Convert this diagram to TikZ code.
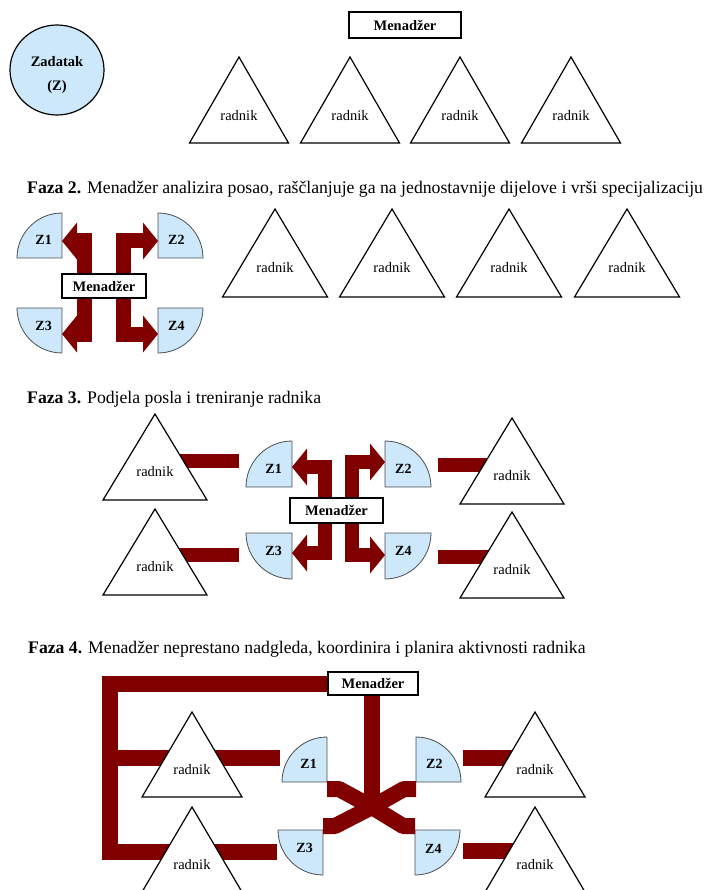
\documentclass[tikz,border=0pt]{standalone}
\usepackage{fontspec}
\setmainfont{Liberation Serif}
\usetikzlibrary{arrows.meta, shapes.geometric}

\definecolor{tamnocrvena}{RGB}{128,0,0}
\definecolor{zplava}{RGB}{204,232,250}

\tikzset{
  trokut/.style={draw, line width=1.2pt, fill=white},
  radnik/.style={font=\fontsize{14.5}{17}\selectfont, inner sep=0pt},
  menbox/.style={draw, line width=1.4pt, fill=white, inner sep=0pt, font=\bfseries\fontsize{14.5}{17}\selectfont},
  zdio/.style={draw=black!70, line width=0.8pt, fill=zplava},
  zoznaka/.style={font=\bfseries\fontsize{14}{17}\selectfont, inner sep=0pt},
  traka/.style={draw=tamnocrvena, line width=15pt},
  strelica/.style={traka, -{Triangle[length=15pt, width=37pt, line width=0pt]}},
  faza/.style={anchor=base west, inner sep=0pt, font=\fontsize{17.7}{20}\selectfont},
}

\begin{document}
\begin{tikzpicture}[x=1pt, y=1pt]
\useasboundingbox (0,0) rectangle (706,-890);
\clip (0,0) rectangle (706,-890);

% faza 1
\node[draw, ellipse, line width=1.2pt, fill=zplava, minimum width=94pt, minimum height=90pt] (zad) at (57,-70) {};
\node[align=center, font=\bfseries\fontsize{14.5}{24}\selectfont] (zadt) at (57,-75) {Zadatak\\(Z)};
\node[menbox, minimum width=112pt, minimum height=26pt] (m1) at (405,-25) {Menadžer};
\foreach \x [count=\n] in {239,350,460,571} {
  \draw[trokut] (\x,-57) -- ++(49.5,-86) -- ++(-99,0) -- cycle;
  \node[radnik] (r1\n) at (\x,-116) {radnik};
}

% faza 2
\node[faza] (f2) at (27,-194) {\textbf{Faza 2.} Menadžer analizira posao, raščlanjuje ga na jednostavnije dijelove i vrši specijalizaciju};
\node[menbox, minimum width=84pt, minimum height=24pt] (m2) at (104,-286) {Menadžer};
\foreach \cx/\cy/\a [count=\n] in {62/-258/90, 158/-258/0, 62/-308/180, 158/-308/270} {
  \coordinate (c2\n) at (\cx,\cy);
  \draw[zdio] (c2\n) -- ++(\a:45) arc[start angle=\a, delta angle=90, radius=45] -- cycle;
  \node[zoznaka] (z2\n) at ([shift={({\a+45}:26)}]c2\n) {Z\n};
}
\draw[strelica] ([xshift=-20pt]m2.north) |- ([yshift=17pt]c21);
\draw[strelica] ([xshift=19pt]m2.north) |- ([yshift=17pt]c22);
\draw[strelica] ([xshift=-20pt]m2.south) |- ([yshift=-26pt]c23);
\draw[strelica] ([xshift=19pt]m2.south) |- ([yshift=-26pt]c24);
\foreach \x [count=\n] in {275,392,509,627} {
  \draw[trokut] (\x,-209) -- ++(52.5,-88) -- ++(-105,0) -- cycle;
  \node[radnik] (r2\n) at (\x,-268) {radnik};
}

% faza 3
\node[faza] (f3) at (27,-403) {\textbf{Faza 3.} Podjela posla i treniranje radnika};
\coordinate (v31) at (155,-414);
\coordinate (v32) at (512,-418);
\coordinate (v33) at (155,-509);
\coordinate (v34) at (512,-512);
\coordinate (e31) at (239,-461);
\coordinate (e32) at (438,-465);
\coordinate (e33) at (239,-555);
\coordinate (e34) at (438,-557);
\draw[traka, line width=14pt] (e31) -- (e31 -| v31);
\draw[traka, line width=14pt] (e32) -- (e32 -| v32);
\draw[traka, line width=14pt] (e33) -- (e33 -| v33);
\draw[traka, line width=14pt] (e34) -- (e34 -| v34);
\node[menbox, minimum width=93pt, minimum height=25pt] (m3) at (336.5,-510.5) {Menadžer};
\foreach \cx/\cy/\a [count=\n] in {292/-487/90, 385/-487/0, 292/-533/180, 385/-533/270} {
  \coordinate (c3\n) at (\cx,\cy);
  \draw[zdio] (c3\n) -- ++(\a:46) arc[start angle=\a, delta angle=90, radius=46] -- cycle;
  \node[zoznaka] (z3\n) at ([shift={({\a+45}:26)}]c3\n) {Z\n};
}
\draw[strelica, line width=14pt] ([xshift=-11.5pt]m3.north) |- ([yshift=20pt]c31);
\draw[strelica, line width=14pt] ([xshift=15.5pt]m3.north) |- ([yshift=25pt]c32);
\draw[strelica, line width=14pt] ([xshift=-11.5pt]m3.south) |- ([yshift=-20pt]c33);
\draw[strelica, line width=14pt] ([xshift=15.5pt]m3.south) |- ([yshift=-22pt]c34);
\foreach \n in {1,...,4} {
  \draw[trokut] (v3\n) -- ++(52,-86) -- ++(-104,0) -- cycle;
  \node[radnik] (r3\n) at ([yshift=-58pt]v3\n) {radnik};
}

% faza 4
\node[faza] (f4) at (28,-653) {\textbf{Faza 4.} Menadžer neprestano nadgleda, koordinira i planira aktivnosti radnika};
\node[menbox, minimum width=90pt, minimum height=23pt] (m4) at (373,-683.5) {Menadžer};
\coordinate (k4) at (109.5,-683.5);
\coordinate (xc) at (372,-807);
\coordinate (v41) at (192,-712);
\coordinate (v42) at (535,-712);
\coordinate (v43) at (192,-807);
\coordinate (v44) at (535,-807);
\coordinate (e41) at (280,-758);
\coordinate (e42) at (463,-758);
\coordinate (e43) at (277,-851.5);
\coordinate (e44) at (463,-851);
\draw[traka, line width=16pt] (m4.west) -- (k4) |- (e43);
\draw[traka, line width=16pt] (k4 |- e41) -- (e41);
\draw[traka, line width=16pt] (e42) -- (e42 -| v42);
\draw[traka, line width=16pt] (e44) -- (e44 -| v44);
\draw[traka, line width=16pt] (m4.south -| xc) -- (xc);
\foreach \cx/\cy/\a [count=\n] in {327/-782/90, 416/-782/0, 323/-830/180, 415/-830/270} {
  \coordinate (c4\n) at (\cx,\cy);
  \draw[zdio] (c4\n) -- ++(\a:45) arc[start angle=\a, delta angle=90, radius=45] -- cycle;
  \node[zoznaka] (z4\n) at ([shift={({\a+45}:26)}]c4\n) {Z\n};
}
\draw[traka, line width=16pt, line join=bevel] ([yshift=-7pt]c41) -- ++(12,0) -- (xc) -- ([shift={(-12,4)}]c44) -- ++(12,0);
\draw[traka, line width=16pt, line join=bevel] ([yshift=-7pt]c42) -- ++(-12,0) -- (xc) -- ([shift={(12,4)}]c43) -- ++(-12,0);
\foreach \n in {1,...,4} {
  \draw[trokut] (v4\n) -- ++(50,-85) -- ++(-100,0) -- cycle;
  \node[radnik] (r4\n) at ([yshift=-58pt]v4\n) {radnik};
}
\end{tikzpicture}
\end{document}
